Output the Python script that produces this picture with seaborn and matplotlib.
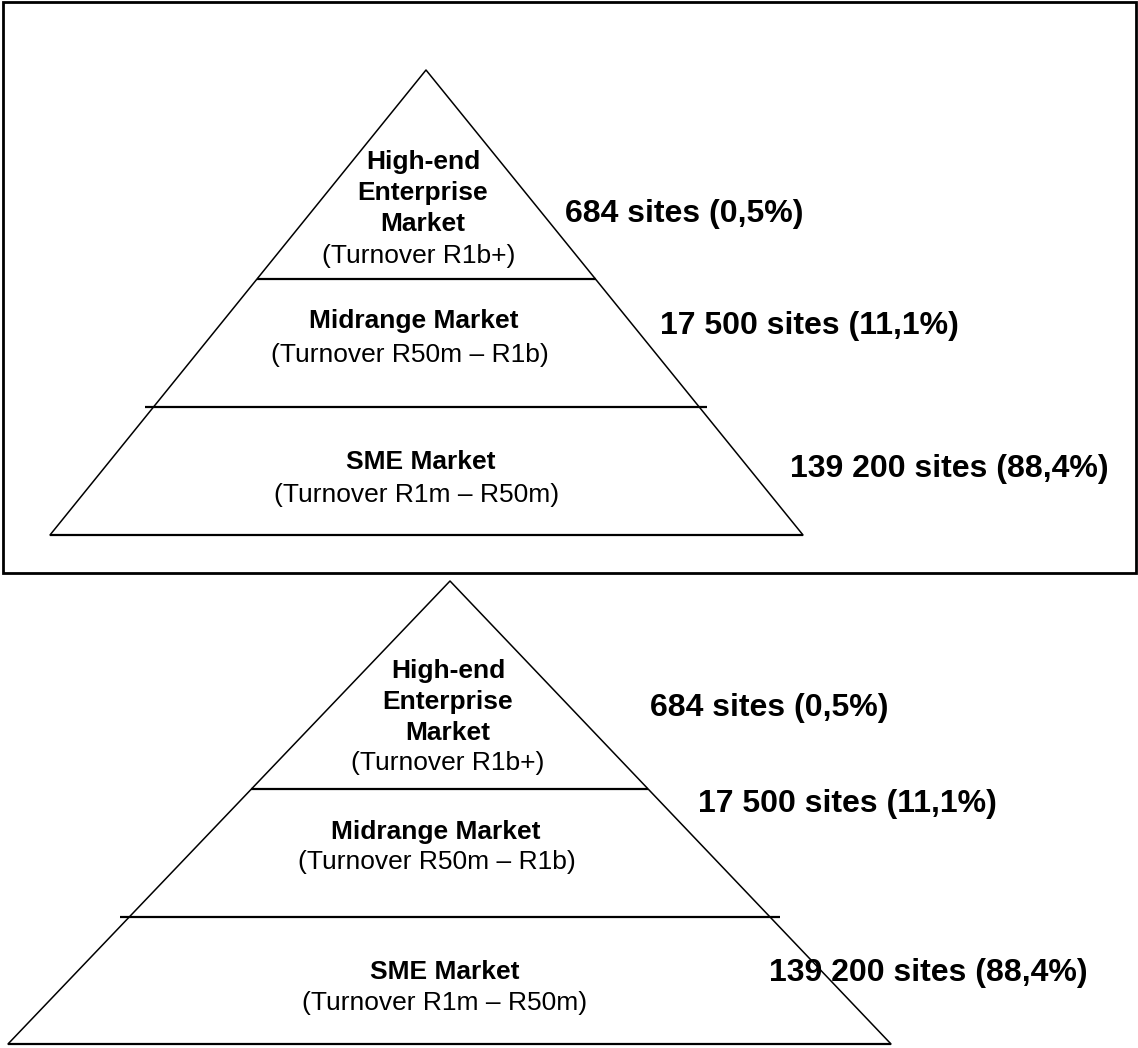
import matplotlib
matplotlib.use("Agg")
import matplotlib.pyplot as plt
import matplotlib.patches as mpatches
import seaborn as sns
import pandas as pd

# ---- data ----
tier_names = ["High-end\nEnterprise\nMarket", "Midrange Market", "SME Market"]
tier_turnover = ["(Turnover R1b+)", "(Turnover R50m \u2013 R1b)", "(Turnover R1m \u2013 R50m)"]
site_counts = ["684", "17 500", "139 200"]
site_shares = ["0,5", "11,1", "88,4"]
tier_bounds = [0.0, 0.45, 0.725, 1.0]   # relative depth of tier boundaries (apex=0, base=1)

# ---- layout (pixel space) ----
W, H = 1138, 1048
panels = [
    dict(apex=(426, 70), base_y=535, base_l=50, base_r=803,
         name_xy=[(423, 193), (414, 321), (421, 462)],
         turn_xy=[(419, 256), (410, 355), (417, 495)],
         site_xy=[(565, 214), (660, 326), (790, 469)],
         overhang=[0, 8],
         box=(3, 2, 1136, 573)),
    dict(apex=(450, 581), base_y=1044, base_l=8, base_r=891,
         name_xy=[(448, 702), (436, 832), (445, 972)],
         turn_xy=[(448, 763), (437, 862), (445, 1003)],
         site_xy=[(650, 708), (698, 804), (769, 973)],
         overhang=[0, 10],
         box=None),
]

sns.set_theme(style="white")
plt.rcParams["font.family"] = ["Liberation Sans", "DejaVu Sans"]
plt.rcParams["text.color"] = "black"

fig = plt.figure(figsize=(W / 100, H / 100), dpi=100)
ax = fig.add_axes([0, 0, 1, 1])
ax.set_xlim(0, W)
ax.set_ylim(H, 0)
ax.axis("off")

for p in panels:
    ax_, ay = p["apex"]
    by, bl, br = p["base_y"], p["base_l"], p["base_r"]
    # outline of the pyramid sides
    sides = pd.DataFrame({"x": [bl, ax_, br], "y": [by, ay, by]})
    sns.lineplot(data=sides, x="x", y="y", sort=False, estimator=None,
                 color="black", lw=1.1, ax=ax, legend=False)
    # base
    ax.plot([bl, br], [by, by], color="black", lw=1.6, solid_capstyle="butt")
    # dividers
    for i, f in enumerate(tier_bounds[1:-1]):
        y = ay + f * (by - ay)
        xl = ax_ + f * (bl - ax_)
        xr = ax_ + f * (br - ax_)
        oh = p["overhang"][i]
        ax.plot([xl - oh, xr + oh], [y, y], color="black", lw=1.6,
                solid_capstyle="butt")
    # texts
    for i in range(3):
        nx, ny = p["name_xy"][i]
        ax.text(nx, ny, tier_names[i], ha="center", va="center", color="black",
                fontsize=19, fontweight="bold", linespacing=1.37)
        tx, ty = p["turn_xy"][i]
        ax.text(tx, ty, tier_turnover[i], ha="center", va="center",
                color="black", fontsize=19)
        sx, sy = p["site_xy"][i]
        ax.text(sx, sy, f"{site_counts[i]} sites ({site_shares[i]}%)",
                ha="left", va="center", fontsize=23, fontweight="bold",
                color="black")
    if p["box"] is not None:
        x0, y0, x1, y1 = p["box"]
        ax.add_patch(mpatches.Rectangle((x0, y0), x1 - x0, y1 - y0, fill=False,
                                        edgecolor="black", lw=2.0))

fig.savefig("out.png", dpi=100, facecolor="white")
